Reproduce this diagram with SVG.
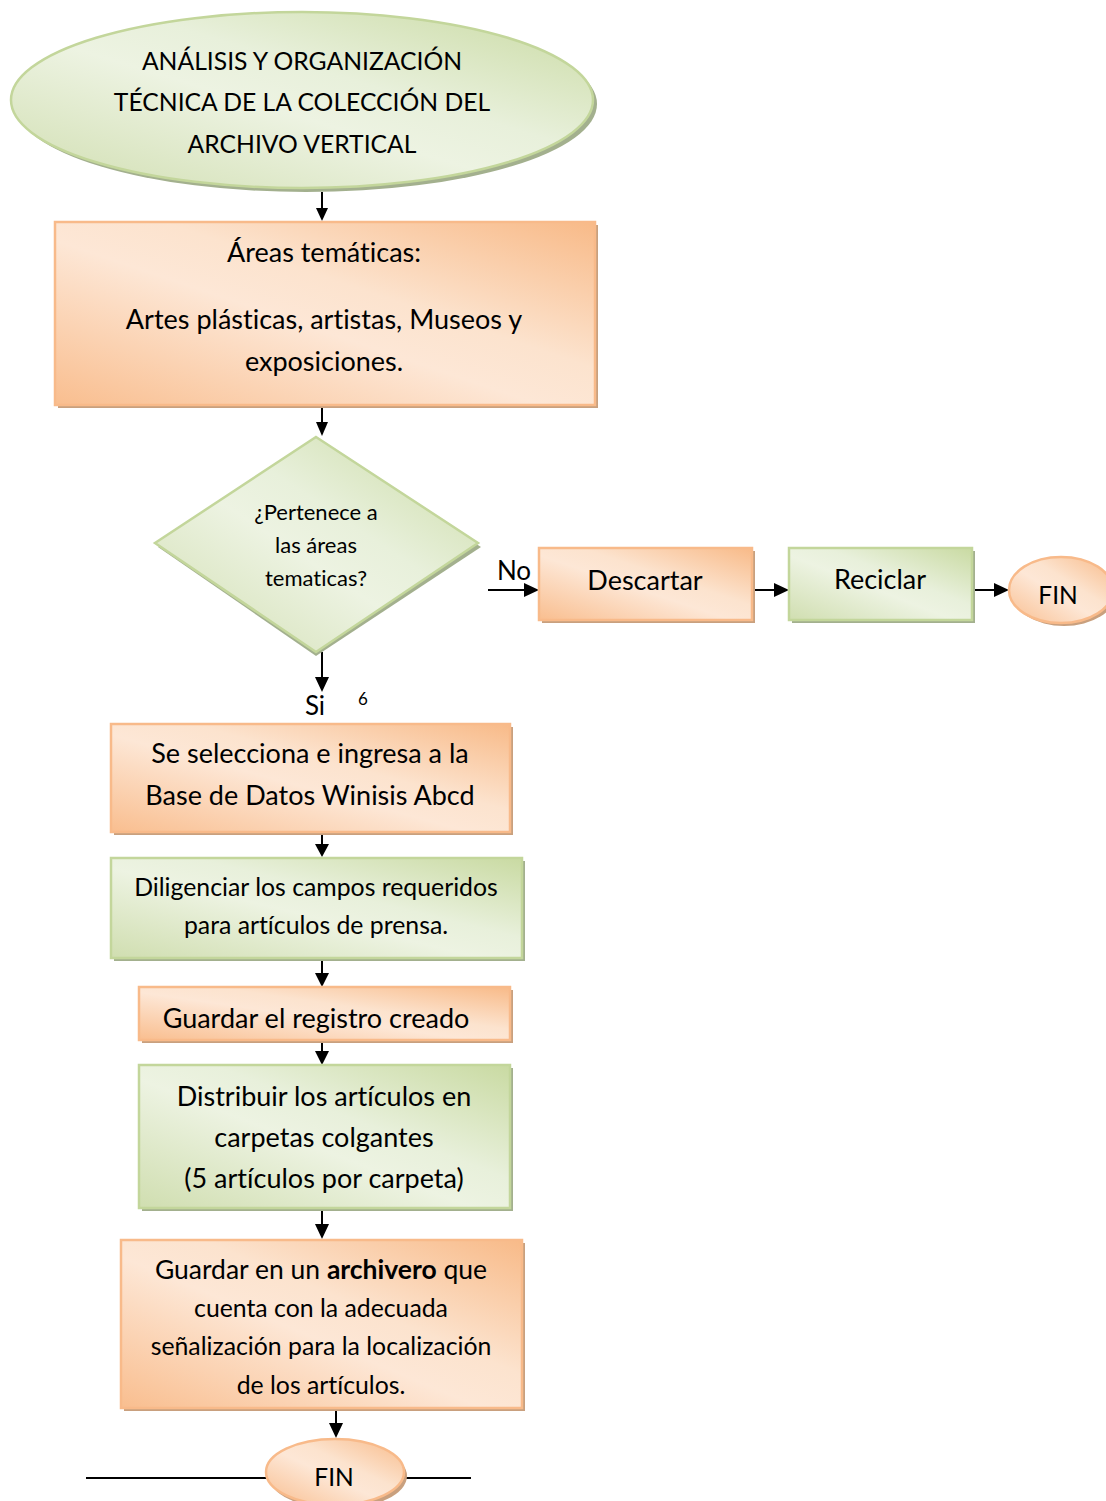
<svg xmlns="http://www.w3.org/2000/svg" width="1106" height="1501" viewBox="0 0 1106 1501">
<style>
text{font-family:Lato,"Open Sans","Liberation Sans",sans-serif;fill:#000;text-anchor:middle;dominant-baseline:central;font-variant-ligatures:none}
.tt{font-size:24.7px}
.t24{font-size:27px}
.t22{font-size:24.8px}
.t19{font-size:22px}
.tf{font-size:24.5px}
.o{fill:url(#og);stroke:#F8BA8A;stroke-width:2.5}
.g{fill:url(#gg);stroke:#C3D69B;stroke-width:2.5}
.os{fill:#C9A07E}
.gs{fill:#A3B08E}
</style>
<defs>
<linearGradient id="og" x1="0" y1="1" x2="1" y2="0">
<stop offset="0" stop-color="#F9BE8F"/>
<stop offset="0.45" stop-color="#FDE7D6"/>
<stop offset="0.6" stop-color="#FCE3CE"/>
<stop offset="1" stop-color="#F8BA88"/>
</linearGradient>
<linearGradient id="gg" x1="0" y1="1" x2="1" y2="0">
<stop offset="0" stop-color="#D0DEB0"/>
<stop offset="0.45" stop-color="#EDF3E2"/>
<stop offset="0.6" stop-color="#E8F0DB"/>
<stop offset="1" stop-color="#C9DAA2"/>
</linearGradient>
</defs>

<g id="connectors">
<line x1="322" y1="192" x2="322" y2="210" stroke="#000" stroke-width="2"/>
<path d="M316,208 L328,208 L322,221 z"/>
<line x1="322" y1="406" x2="322" y2="424" stroke="#000" stroke-width="2"/>
<path d="M316,422 L328,422 L322,436 z"/>
<line x1="322" y1="652" x2="322" y2="678" stroke="#000" stroke-width="2"/>
<path d="M315,677 L329,677 L322,692 z"/>
<line x1="322" y1="833" x2="322" y2="846" stroke="#000" stroke-width="2"/>
<path d="M315,844 L329,844 L322,857 z"/>
<line x1="322" y1="959" x2="322" y2="975" stroke="#000" stroke-width="2"/>
<path d="M315,973 L329,973 L322,987 z"/>
<line x1="322" y1="1041" x2="322" y2="1053" stroke="#000" stroke-width="2"/>
<path d="M315,1051 L329,1051 L322,1065 z"/>
<line x1="322" y1="1209" x2="322" y2="1226" stroke="#000" stroke-width="2"/>
<path d="M315,1224 L329,1224 L322,1239 z"/>
<line x1="336" y1="1409" x2="336" y2="1425" stroke="#000" stroke-width="2"/>
<path d="M329,1423 L343,1423 L336,1438 z"/>
<line x1="488" y1="590" x2="526" y2="590" stroke="#000" stroke-width="2"/>
<path d="M524,583 L524,597 L539,590 z"/>
<line x1="752" y1="590" x2="776" y2="590" stroke="#000" stroke-width="2"/>
<path d="M774,583 L774,597 L789,590 z"/>
<line x1="972" y1="590" x2="996" y2="590" stroke="#000" stroke-width="2"/>
<path d="M994,583 L994,597 L1009,590 z"/>
<line x1="86" y1="1478" x2="266" y2="1478" stroke="#000" stroke-width="2"/>
<line x1="403" y1="1478" x2="471" y2="1478" stroke="#000" stroke-width="2"/>
<text x="514" y="570" style="font-size:26px">No</text>
<text x="315" y="705" style="font-size:26px">Si</text>
<text x="363" y="698" style="font-size:17px;font-variant-numeric:lining-nums">6</text>
</g>

<g id="start">
<ellipse cx="306" cy="104" rx="291" ry="88" class="gs"/>
<ellipse cx="302" cy="100" rx="291" ry="88" class="g"/>
<text x="302" y="60" class="tt">ANÁLISIS Y ORGANIZACIÓN</text>
<text x="302" y="101" class="tt">TÉCNICA DE LA COLECCIÓN DEL</text>
<text x="302" y="143" class="tt">ARCHIVO VERTICAL</text>
</g>

<g id="areas">
<rect x="58" y="225" width="540" height="183" class="os"/>
<rect x="55" y="222" width="540" height="183" class="o"/>
<text x="324" y="251" class="t24">Áreas temáticas:</text>
<text x="324" y="318" class="t24">Artes plásticas, artistas, Museos y</text>
<text x="324" y="360" class="t24">exposiciones.</text>
</g>

<g id="decision">
<polygon points="316,441 481,547 316,656 158,547" class="gs"/>
<polygon points="316,437 478,543 316,652 155,543" class="g"/>
<text x="316" y="511" class="t19">¿Pertenece a</text>
<text x="316" y="544" class="t19">las áreas</text>
<text x="316" y="577" class="t19">tematicas?</text>
</g>

<g id="descartar">
<rect x="542" y="551" width="213" height="72" class="os"/>
<rect x="539" y="548" width="213" height="72" class="o"/>
<text x="645" y="579" class="t24">Descartar</text>
</g>

<g id="reciclar">
<rect x="792" y="551" width="183" height="72" class="gs"/>
<rect x="789" y="548" width="183" height="72" class="g"/>
<text x="880" y="578" class="t24">Reciclar</text>
</g>

<g id="fin-right">
<ellipse cx="1064" cy="593" rx="52" ry="33" class="os"/>
<ellipse cx="1061" cy="590" rx="52" ry="33" class="o"/>
<text x="1058" y="594" class="tf">FIN</text>
</g>

<g id="selecciona">
<rect x="114" y="727" width="399" height="108" class="os"/>
<rect x="111" y="724" width="399" height="108" class="o"/>
<text x="310" y="752" class="t24">Se selecciona e ingresa a la</text>
<text x="310" y="794" class="t24">Base de Datos Winisis Abcd</text>
</g>

<g id="diligenciar">
<rect x="114" y="861" width="411" height="100" class="gs"/>
<rect x="111" y="858" width="411" height="100" class="g"/>
<text x="316" y="886" class="t22">Diligenciar los campos requeridos</text>
<text x="316" y="924" class="t22">para artículos de prensa.</text>
</g>

<g id="guardar-registro">
<rect x="142" y="990" width="371" height="53" class="os"/>
<rect x="139" y="987" width="371" height="53" class="o"/>
<text x="316" y="1017" class="t24">Guardar el registro creado</text>
</g>

<g id="distribuir">
<rect x="142" y="1068" width="371" height="143" class="gs"/>
<rect x="139" y="1065" width="371" height="143" class="g"/>
<text x="324" y="1095" class="t24">Distribuir los artículos en</text>
<text x="324" y="1136" class="t24">carpetas colgantes</text>
<text x="324" y="1177" class="t24">(5 artículos por carpeta)</text>
</g>

<g id="archivero">
<rect x="124" y="1243" width="401" height="168" class="os"/>
<rect x="121" y="1240" width="401" height="168" class="o"/>
<text x="321" y="1269" style="font-size:26.5px">Guardar en un <tspan font-weight="bold">archivero</tspan> que</text>
<text x="321" y="1307" class="t22">cuenta con la adecuada</text>
<text x="321" y="1345" class="t22">señalización para la localización</text>
<text x="321" y="1384" class="t22">de los artículos.</text>
</g>

<g id="fin-bottom">
<ellipse cx="338" cy="1476" rx="69" ry="33" class="os"/>
<ellipse cx="335" cy="1472" rx="69" ry="33" class="o"/>
<text x="334" y="1476" class="tf">FIN</text>
</g>
</svg>
